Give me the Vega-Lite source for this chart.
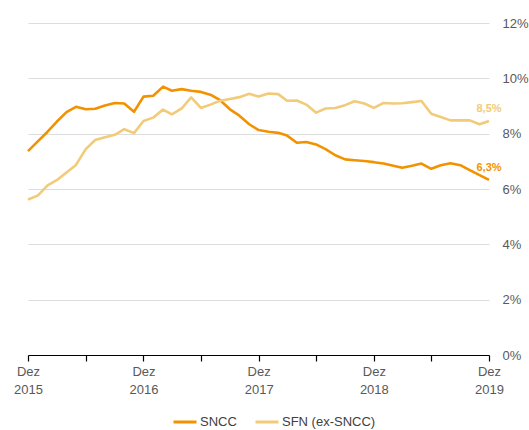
{
  "$schema": "https://vega.github.io/schema/vega-lite/v6.json",
  "width": 461,
  "height": 332,
  "autosize": {"type": "none"},
  "padding": {"left": 28, "top": 23, "right": 40, "bottom": 75},
  "background": "white",
  "config": {
    "font": "Liberation Sans",
    "view": {"stroke": null}
  },
  "datasets": {
    "main": [
      {"date": "2015-12-01", "SNCC": 7.37, "SFN (ex-SNCC)": 5.62},
      {"date": "2016-01-01", "SNCC": 7.72, "SFN (ex-SNCC)": 5.76},
      {"date": "2016-02-01", "SNCC": 8.07, "SFN (ex-SNCC)": 6.13},
      {"date": "2016-03-01", "SNCC": 8.43, "SFN (ex-SNCC)": 6.32},
      {"date": "2016-04-01", "SNCC": 8.78, "SFN (ex-SNCC)": 6.60},
      {"date": "2016-05-01", "SNCC": 8.97, "SFN (ex-SNCC)": 6.87},
      {"date": "2016-06-01", "SNCC": 8.88, "SFN (ex-SNCC)": 7.44},
      {"date": "2016-07-01", "SNCC": 8.90, "SFN (ex-SNCC)": 7.77},
      {"date": "2016-08-01", "SNCC": 9.02, "SFN (ex-SNCC)": 7.87},
      {"date": "2016-09-01", "SNCC": 9.11, "SFN (ex-SNCC)": 7.96},
      {"date": "2016-10-01", "SNCC": 9.09, "SFN (ex-SNCC)": 8.16},
      {"date": "2016-11-01", "SNCC": 8.79, "SFN (ex-SNCC)": 8.02},
      {"date": "2016-12-01", "SNCC": 9.34, "SFN (ex-SNCC)": 8.46},
      {"date": "2017-01-01", "SNCC": 9.37, "SFN (ex-SNCC)": 8.58},
      {"date": "2017-02-01", "SNCC": 9.70, "SFN (ex-SNCC)": 8.87},
      {"date": "2017-03-01", "SNCC": 9.55, "SFN (ex-SNCC)": 8.70},
      {"date": "2017-04-01", "SNCC": 9.61, "SFN (ex-SNCC)": 8.91},
      {"date": "2017-05-01", "SNCC": 9.55, "SFN (ex-SNCC)": 9.31},
      {"date": "2017-06-01", "SNCC": 9.51, "SFN (ex-SNCC)": 8.93},
      {"date": "2017-07-01", "SNCC": 9.41, "SFN (ex-SNCC)": 9.05},
      {"date": "2017-08-01", "SNCC": 9.21, "SFN (ex-SNCC)": 9.19},
      {"date": "2017-09-01", "SNCC": 8.88, "SFN (ex-SNCC)": 9.25},
      {"date": "2017-10-01", "SNCC": 8.65, "SFN (ex-SNCC)": 9.32},
      {"date": "2017-11-01", "SNCC": 8.34, "SFN (ex-SNCC)": 9.44},
      {"date": "2017-12-01", "SNCC": 8.13, "SFN (ex-SNCC)": 9.34},
      {"date": "2018-01-01", "SNCC": 8.07, "SFN (ex-SNCC)": 9.45},
      {"date": "2018-02-01", "SNCC": 8.03, "SFN (ex-SNCC)": 9.43},
      {"date": "2018-03-01", "SNCC": 7.93, "SFN (ex-SNCC)": 9.19},
      {"date": "2018-04-01", "SNCC": 7.67, "SFN (ex-SNCC)": 9.20},
      {"date": "2018-05-01", "SNCC": 7.70, "SFN (ex-SNCC)": 9.05},
      {"date": "2018-06-01", "SNCC": 7.61, "SFN (ex-SNCC)": 8.76},
      {"date": "2018-07-01", "SNCC": 7.44, "SFN (ex-SNCC)": 8.91},
      {"date": "2018-08-01", "SNCC": 7.22, "SFN (ex-SNCC)": 8.93},
      {"date": "2018-09-01", "SNCC": 7.07, "SFN (ex-SNCC)": 9.03},
      {"date": "2018-10-01", "SNCC": 7.04, "SFN (ex-SNCC)": 9.17},
      {"date": "2018-11-01", "SNCC": 7.01, "SFN (ex-SNCC)": 9.09},
      {"date": "2018-12-01", "SNCC": 6.97, "SFN (ex-SNCC)": 8.93},
      {"date": "2019-01-01", "SNCC": 6.92, "SFN (ex-SNCC)": 9.11},
      {"date": "2019-02-01", "SNCC": 6.84, "SFN (ex-SNCC)": 9.09},
      {"date": "2019-03-01", "SNCC": 6.77, "SFN (ex-SNCC)": 9.10},
      {"date": "2019-04-01", "SNCC": 6.84, "SFN (ex-SNCC)": 9.14},
      {"date": "2019-05-01", "SNCC": 6.92, "SFN (ex-SNCC)": 9.18},
      {"date": "2019-06-01", "SNCC": 6.73, "SFN (ex-SNCC)": 8.72},
      {"date": "2019-07-01", "SNCC": 6.86, "SFN (ex-SNCC)": 8.60},
      {"date": "2019-08-01", "SNCC": 6.93, "SFN (ex-SNCC)": 8.48},
      {"date": "2019-09-01", "SNCC": 6.86, "SFN (ex-SNCC)": 8.48},
      {"date": "2019-10-01", "SNCC": 6.68, "SFN (ex-SNCC)": 8.48},
      {"date": "2019-11-01", "SNCC": 6.50, "SFN (ex-SNCC)": 8.34},
      {"date": "2019-12-01", "SNCC": 6.33, "SFN (ex-SNCC)": 8.46}
    ],
    "labels": [
      {"date": "2019-12-01", "series": "SNCC", "value": 6.33, "label": "6,3%"},
      {"date": "2019-12-01", "series": "SFN (ex-SNCC)", "value": 8.46, "label": "8,5%"}
    ]
  },
  "layer": [
    {
      "data": {"name": "main"},
      "transform": [{"fold": ["SNCC", "SFN (ex-SNCC)"], "as": ["series", "value"]}],
      "mark": {"type": "line", "strokeWidth": 2.6, "strokeJoin": "round"},
      "encoding": {
        "x": {
          "field": "date",
          "type": "temporal",
          "scale": {"type": "utc", "domain": [{"year": 2015, "month": 12, "date": 1, "utc": true}, {"year": 2019, "month": 12, "date": 1, "utc": true}]},
          "axis": {
            "title": null,
            "grid": false,
            "values": [
              {"year": 2015, "month": 12, "date": 1, "utc": true},
              {"year": 2016, "month": 3, "date": 1, "utc": true},
              {"year": 2016, "month": 6, "date": 1, "utc": true},
              {"year": 2016, "month": 9, "date": 1, "utc": true},
              {"year": 2016, "month": 12, "date": 1, "utc": true},
              {"year": 2017, "month": 3, "date": 1, "utc": true},
              {"year": 2017, "month": 6, "date": 1, "utc": true},
              {"year": 2017, "month": 9, "date": 1, "utc": true},
              {"year": 2017, "month": 12, "date": 1, "utc": true},
              {"year": 2018, "month": 3, "date": 1, "utc": true},
              {"year": 2018, "month": 6, "date": 1, "utc": true},
              {"year": 2018, "month": 9, "date": 1, "utc": true},
              {"year": 2018, "month": 12, "date": 1, "utc": true},
              {"year": 2019, "month": 3, "date": 1, "utc": true},
              {"year": 2019, "month": 6, "date": 1, "utc": true},
              {"year": 2019, "month": 9, "date": 1, "utc": true},
              {"year": 2019, "month": 12, "date": 1, "utc": true}
            ],
            "labelExpr": "utcmonth(datum.value) == 11 ? ['Dez', utcFormat(datum.value, '%Y')] : ''",
            "labelFontSize": 13,
            "labelColor": "#595959",
            "labelPadding": 4,
            "labelLineHeight": 18,
            "labelFlush": false,
            "labelOverlap": false,
            "domainColor": "#000000",
            "domainWidth": 1.2,
            "tickColor": "#000000",
            "tickSize": 6,
            "tickWidth": 1.2
          }
        },
        "y": {
          "field": "value",
          "type": "quantitative",
          "scale": {"domain": [0, 12]},
          "axis": {
            "title": null,
            "orient": "right",
            "values": [0, 2, 4, 6, 8, 10, 12],
            "labelExpr": "datum.value + '%'",
            "domain": false,
            "ticks": false,
            "gridColor": "#dddddd",
            "gridWidth": 1,
            "labelFontSize": 13,
            "labelColor": "#595959",
            "labelPadding": 13
          }
        },
        "color": {
          "field": "series",
          "type": "nominal",
          "scale": {"domain": ["SNCC", "SFN (ex-SNCC)"], "range": ["#F39200", "#F2CB78"]},
          "legend": {
            "title": null,
            "orient": "none",
            "legendX": 144,
            "legendY": 386,
            "direction": "horizontal",
            "symbolType": "stroke",
            "symbolSize": 529,
            "symbolStrokeWidth": 3,
            "labelFontSize": 13,
            "labelColor": "#404040",
            "labelOffset": 2,
            "columnPadding": 12
          }
        }
      }
    },
    {
      "data": {"name": "labels"},
      "mark": {"type": "text", "fontSize": 11, "fontWeight": "bold", "align": "center", "dy": -12},
      "encoding": {
        "x": {"field": "date", "type": "temporal"},
        "y": {"field": "value", "type": "quantitative"},
        "text": {"field": "label"},
        "color": {"field": "series", "type": "nominal", "legend": null}
      }
    }
  ]
}
